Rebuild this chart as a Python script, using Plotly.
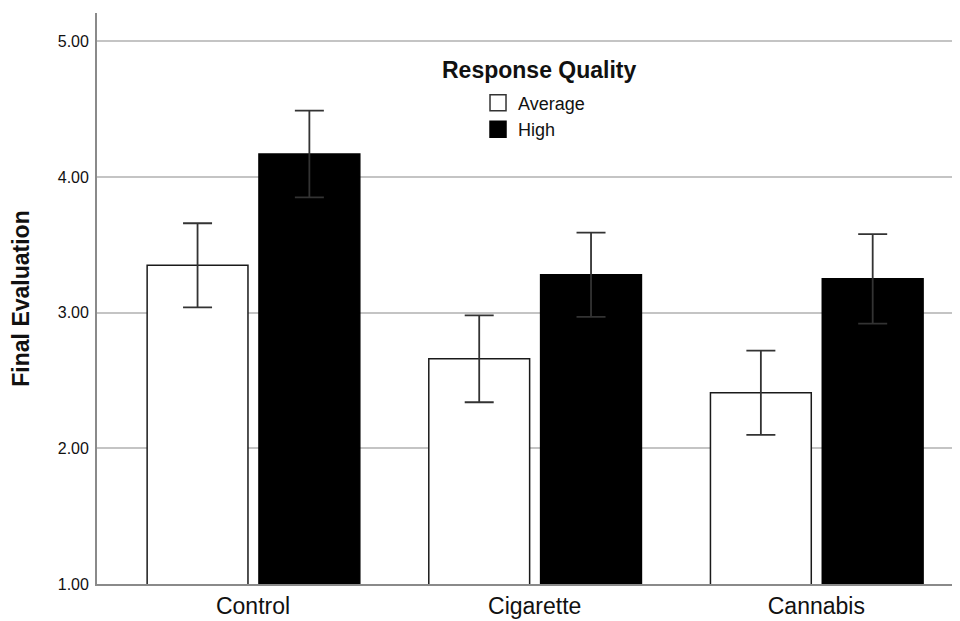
import plotly.graph_objects as go

categories = ["Control", "Cigarette", "Cannabis"]
avg_values = [3.35, 2.66, 2.41]
avg_errors = [0.31, 0.32, 0.31]
high_values = [4.17, 3.28, 3.25]
high_errors = [0.32, 0.31, 0.33]
y_ticks = [1, 2, 3, 4, 5]

FONT = "Liberation Sans, Arial, sans-serif"
x_pos = list(range(len(categories)))
BAR_W = 0.358

fig = go.Figure()
err_style = dict(type="data", symmetric=True, color="#333333", thickness=1.8, width=14.5)

fig.add_trace(go.Bar(
    x=x_pos, y=avg_values, width=BAR_W, offset=-0.376,
    marker=dict(color="white", line=dict(color="#1a1a1a", width=1.5)),
    error_y=dict(array=avg_errors, **err_style),
    showlegend=False, name="Average",
))
fig.add_trace(go.Bar(
    x=x_pos, y=high_values, width=BAR_W, offset=0.021,
    marker=dict(color="black", line=dict(color="black", width=1.5)),
    error_y=dict(array=high_errors, **err_style),
    showlegend=False, name="High",
))
# legend entries
fig.add_trace(go.Scatter(
    x=[None], y=[None], mode="markers", name="Average",
    marker=dict(symbol="square", size=18, color="white", line=dict(color="#333333", width=1.5)),
))
fig.add_trace(go.Scatter(
    x=[None], y=[None], mode="markers", name="High",
    marker=dict(symbol="square", size=18, color="black", line=dict(color="black", width=1.5)),
))

PLOT_W = 863

fig.update_layout(
    width=952, height=613,
    margin=dict(l=89, r=0, t=5, b=36.5),
    paper_bgcolor="white", plot_bgcolor="white",
    barmode="overlay",
    font=dict(family=FONT, color="#111111"),
    showlegend=True,
    legend=dict(
        x=0.4415, y=0.8745, xanchor="left", yanchor="top",
        bgcolor="rgba(0,0,0,0)", borderwidth=0,
        font=dict(family=FONT, size=18, color="#111111"),
        tracegroupgap=0, itemsizing="trace",
    ),
    annotations=[dict(
        text="<b>Response Quality</b>", x=(538.5 - 97) / PLOT_W, xref="paper",
        y=0.90, yref="paper", xanchor="center", yanchor="middle", showarrow=False,
        font=dict(family=FONT, size=23, color="#111111"),
    )],
)

fig.update_xaxes(
    range=[-0.554, 2.51], tickvals=x_pos, ticktext=categories,
    showgrid=False, zeroline=False, showline=True, linecolor="#8a8a8a", linewidth=1.8,
    ticks="", tickfont=dict(family=FONT, size=23, color="#111111"),
)
fig.update_yaxes(
    range=[1, 5.21], tickvals=y_ticks, tickformat=".2f",
    showgrid=True, gridcolor="#c4c4c4", gridwidth=1.6, zeroline=False,
    showline=True, linecolor="#8a8a8a", linewidth=1.8, ticks="",
    ticklabelstandoff=3,
    tickfont=dict(family=FONT, size=16, color="#111111"),
    title=dict(text="<b>Final Evaluation</b>", standoff=24,
               font=dict(family=FONT, size=23, color="#111111")),
)

fig.write_html("out.html")
